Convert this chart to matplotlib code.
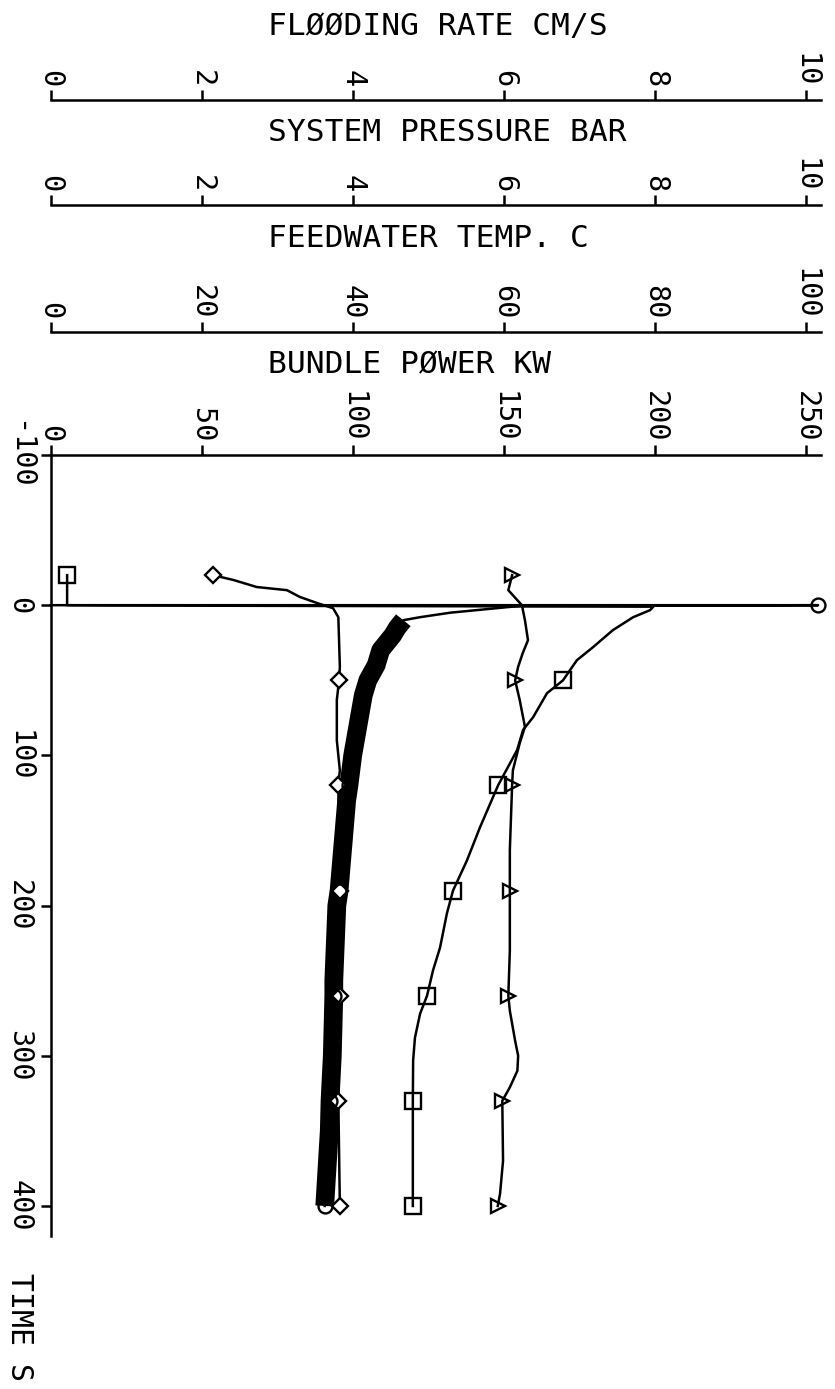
import matplotlib
matplotlib.use("Agg")
import matplotlib.pyplot as plt

plt.rcParams['font.family'] = ['DejaVu Sans Mono', 'DejaVu Sans']
plt.rcParams['axes.unicode_minus'] = False

# ---------------- data ----------------
time_ticks = [-100, 0, 100, 200, 300, 400]
power_ticks = [0, 50, 100, 150, 200, 250]
rate_ticks = [0, 2, 4, 6, 8, 10]
pressure_ticks = [0, 2, 4, 6, 8, 10]
temp_ticks = [0, 20, 40, 60, 80, 100]

titles = ["FLØØDING RATE CM/S", "SYSTEM PRESSURE BAR", "FEEDWATER TEMP. C", "BUNDLE PØWER KW"]
time_label = "TIME S"
marker_times = [-20, 50, 120, 190, 260, 330, 400]

# bundle power, kW (squares)
power_t = [-20, -0.5, 0.0, 0.2, 1.0, 3.3, 8, 16.6, 28, 36.6, 50, 58.6, 74.6, 83, 96.5,
           120, 148, 170, 190, 205, 228, 243, 260, 272, 288, 303, 330, 400]
power_kw = [5.5, 5.5, 5.5, 19.7, 199.5, 198.4, 192.8, 186.1, 179.5, 174.2, 169.6, 164.3, 159.7, 156.4, 154.4,
            148.1, 142.1, 137.8, 133.2, 131.2, 128.9, 126.6, 124.6, 122.3, 120.6, 120.0, 119.9, 119.9]

# flooding rate, cm/s (circles, noisy measurement)
rate_t = [0, 0, 0.5, 5, 8, 10, 15, 20, 30, 40, 50, 60, 80, 100, 120, 130, 160, 190, 200,
          250, 260, 300, 330, 350, 400]
rate_cms = [0.0, 10.16, 6.21, 5.29, 4.89, 4.67, 4.59, 4.53, 4.37, 4.31, 4.20, 4.14, 4.07, 4.00,
            3.95, 3.92, 3.87, 3.82, 3.79, 3.75, 3.75, 3.73, 3.70, 3.69, 3.63]
rate_mark_times = [0, 50, 120, 190, 260, 330, 400]

# system pressure, bar (diamonds)
pres_t = [-20, -16.8, -12.1, -10, -5.5, -1.4, 2, 8, 41, 50, 63, 90, 110, 120, 190, 260, 330, 400]
pres_bar = [2.15, 2.42, 2.73, 3.13, 3.30, 3.53, 3.74, 3.81, 3.83, 3.82, 3.79, 3.79, 3.83, 3.81,
            3.83, 3.83, 3.81, 3.83]

# feedwater temperature, C (triangles)
temp_t = [-20, -10, -3.3, 0, 10, 23.3, 32, 41, 50, 63, 81, 92, 110, 120, 163, 190, 230, 260,
          270, 290, 300, 310, 321, 330, 370, 392, 400]
temp_c = [61.1, 60.6, 61.8, 62.4, 62.8, 63.2, 62.5, 61.9, 61.5, 62.1, 62.8, 62.1, 61.2, 61.1,
          60.8, 60.8, 60.8, 60.6, 60.8, 61.5, 61.9, 61.8, 60.8, 59.8, 59.9, 59.5, 59.2]

# ---------------- layout ----------------
W, H = 835, 1389
fig = plt.figure(figsize=(W / 100, H / 100), dpi=100)
fig.patch.set_facecolor('white')


def fx(px):
    return px / W


def fy(py):
    return 1 - py / H


X0, X1 = 50.5, 821.1
TOP, BOT = 455.0, 1236.0
LW = 1.8
TICKFS = 20.5

ax = fig.add_axes([fx(X0), fy(BOT), (X1 - X0) / W, (BOT - TOP) / H])
ax.set_xlim(0, 255)
ax.set_ylim(420, -100)

ax_rate = ax.twiny()
ax_rate.set_xlim(0, 10.2)
ax_rate.axis('off')
ax_temp = ax.twiny()
ax_temp.set_xlim(0, 102)
ax_temp.axis('off')

ax.patch.set_visible(False)
for s in ['right', 'bottom']:
    ax.spines[s].set_visible(False)
for s in ['left', 'top']:
    ax.spines[s].set_visible(True)
    ax.spines[s].set_linewidth(LW)
ax.xaxis.set_ticks_position('top')
ax.xaxis.set_label_position('top')
ax.set_xticks(power_ticks)
ax.set_yticks(time_ticks)
ax.tick_params(axis='x', which='both', top=True, bottom=False, labeltop=True, labelbottom=False,
               direction='out', length=7.5, width=LW, pad=1.5,
               labelrotation=-90, labelsize=TICKFS)
ax.tick_params(axis='y', direction='out', length=7.5, width=LW, pad=5.0,
               labelrotation=-90, labelsize=TICKFS)
for lab in ax.get_yticklabels():
    lab.set_verticalalignment('center')


def marks(ts, wanted, skip_first=False):
    out = []
    for w in wanted:
        for i, t in enumerate(ts):
            if skip_first and i == 0:
                continue
            if t == w:
                out.append(i)
                break
    return out


# bundle power
ax.plot(power_kw, power_t, color='black', lw=LW, marker='s', ms=11, mfc='none', mew=1.7,
        markevery=marks(power_t, marker_times), clip_on=False, zorder=3)

# flooding rate: thin trace + thick noisy band
ax_rate.plot(rate_cms, rate_t, color='black', lw=LW, clip_on=False, zorder=2)
band = [i for i, t in enumerate(rate_t) if t >= 10]
ax_rate.plot([rate_cms[i] for i in band], [rate_t[i] for i in band], color='black', lw=13.5,
             solid_capstyle='butt', solid_joinstyle='round', zorder=2)
rm = marks(rate_t, rate_mark_times, skip_first=True)
ax_rate.plot([rate_cms[i] for i in rm], [rate_t[i] for i in rm],
             ls='none', marker='o', ms=10, mfc='none', mec='black', mew=1.7, clip_on=False, zorder=4)

# system pressure
ax_rate.plot(pres_bar, pres_t, color='black', lw=LW, marker='D', ms=8.5, mfc='white', mew=1.7,
             markevery=marks(pres_t, marker_times), clip_on=False, zorder=3)

# feedwater temperature
ax_temp.plot(temp_c, temp_t, color='black', lw=LW, marker='>', ms=10.5, mfc='none', mew=1.7,
             markevery=marks(temp_t, marker_times), clip_on=False, zorder=3)


# ---------------- stacked scales ----------------
def scale_axis(line_y, xmax, ticks):
    sa = fig.add_axes([fx(X0), fy(line_y), (X1 - X0) / W, 0.0001])
    sa.set_xlim(0, xmax)
    sa.patch.set_visible(False)
    for s in ['left', 'right', 'bottom']:
        sa.spines[s].set_visible(False)
    sa.spines['top'].set_linewidth(LW)
    sa.set_yticks([])
    sa.xaxis.set_ticks_position('top')
    sa.set_xticks(ticks)
    sa.tick_params(axis='x', top=True, bottom=False, labeltop=True, labelbottom=False,
                   direction='out', length=7.5, width=LW, pad=1.5,
                   labelrotation=-90, labelsize=TICKFS)
    return sa


scale_axis(100, 10.2, rate_ticks)
scale_axis(205, 10.2, pressure_ticks)
scale_axis(332, 102, temp_ticks)

for title, base in zip(titles, [35, 141, 247, 373]):
    fig.text(fx(268), fy(base), title, ha='left', va='baseline', fontsize=22.5)

fig.text(fx(19), fy(1273), time_label, rotation=-90, ha='center', va='top', fontsize=21.5)

fig.savefig("out.png", dpi=100, facecolor='white')
